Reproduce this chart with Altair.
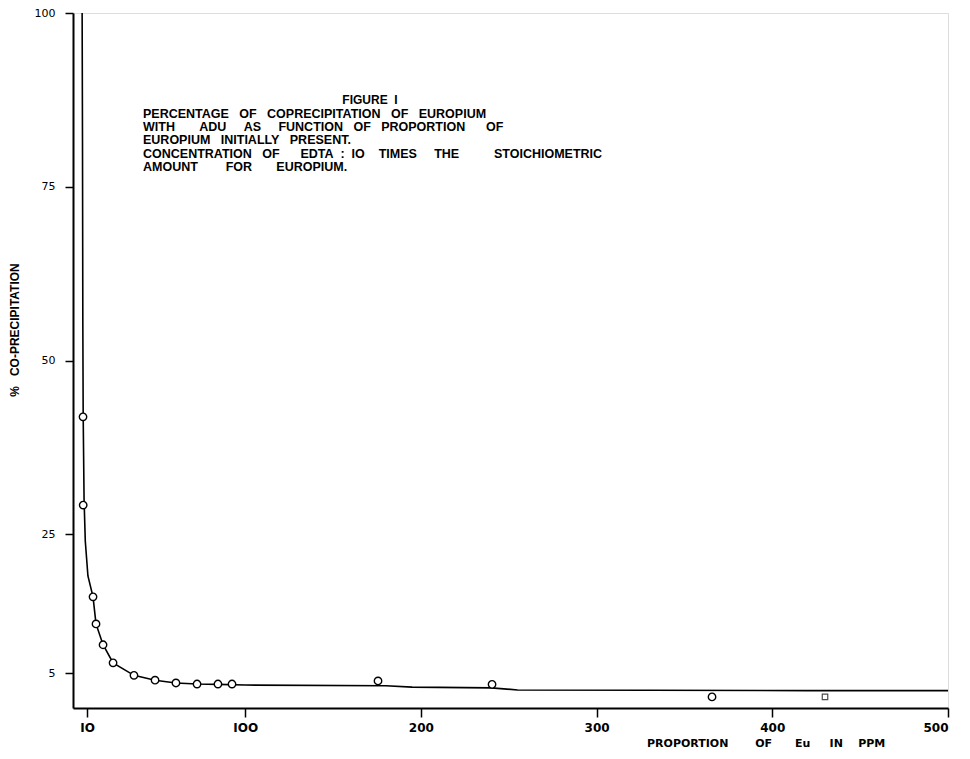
import altair as alt
import pandas as pd

# Smooth fitted curve (x in ppm Eu, y in % co-precipitation)
curve_x = [7.2, 7.4, 7.6, 7.8, 8.3, 9.0, 10.5, 13.4, 15.1, 19.1, 24.8, 36.7, 48.7, 60.6, 72.6, 84.5, 100, 180, 195, 240, 255, 330, 420, 500]
curve_y = [100, 82, 55, 42, 30, 24, 19, 16.0, 12.1, 9.1, 6.5, 4.7, 4.0, 3.6, 3.45, 3.4, 3.3, 3.2, 3.0, 2.9, 2.6, 2.55, 2.5, 2.5]

# Measured points (open circles)
pts_x = [7.7, 7.8, 13.4, 15.1, 19.1, 24.8, 36.7, 48.7, 60.6, 72.6, 84.5, 92.5, 175.6, 240.5, 365.7]
pts_y = [41.9, 29.2, 16.0, 12.1, 9.1, 6.5, 4.7, 4.0, 3.6, 3.45, 3.45, 3.45, 3.9, 3.4, 1.6]

# Square marker
sq_x = [430]
sq_y = [1.6]

x_ticks = [10, 100, 200, 300, 400, 500]
y_ticks = [5, 25, 50, 75, 100]

NB = "\u00a0"


def spaced(words, gaps):
    out = words[0]
    for w, g in zip(words[1:], gaps):
        out += NB * g + w
    return out


title_lines = [
    spaced(["PERCENTAGE", "OF", "COPRECIPITATION", "OF", "EUROPIUM"], [3, 3, 3, 3]),
    spaced(["WITH", "ADU", "AS", "FUNCTION", "OF", "PROPORTION", "OF"], [7, 5, 5, 3, 3, 6]),
    spaced(["EUROPIUM", "INITIALLY", "PRESENT."], [3, 3]),
    spaced(["CONCENTRATION", "OF", "EDTA", ":", "IO", "TIMES", "THE", "STOICHIOMETRIC"], [3, 6, 2, 2, 4, 5, 10]),
    spaced(["AMOUNT", "FOR", "EUROPIUM."], [8, 7]),
]
line_y = [101, 114, 127, 141, 154]

FONT = "Liberation Sans"
WIDE = "DejaVu Sans"

curve_df = pd.DataFrame({"x": curve_x, "y": curve_y, "i": list(range(len(curve_x)))})
pts_df = pd.DataFrame({"x": pts_x, "y": pts_y})
sq_df = pd.DataFrame({"x": sq_x, "y": sq_y})

xscale = alt.Scale(domain=[2, 500], nice=False, zero=False)
yscale = alt.Scale(domain=[0, 100], nice=False)

xaxis = alt.Axis(values=x_ticks, title=None, grid=False, tickSize=9, tickWidth=1.5,
                 domainColor="black", domainWidth=2, tickColor="black",
                 labelFont=WIDE, labelFontSize=12, labelFontWeight="bold", labelColor="black", labelPadding=5,
                 labelExpr="datum.value == 10 ? 'IO' : (datum.value == 100 ? 'IOO' : datum.label)")
yaxis = alt.Axis(values=y_ticks, title=None, grid=False, tickSize=8, tickWidth=1.5,
                 domainColor="black", domainWidth=2, tickColor="black",
                 labelFont=WIDE, labelFontSize=11, labelColor="black", labelPadding=10)

line = alt.Chart(curve_df).mark_line(color="black", strokeWidth=1.6).encode(
    x=alt.X("x:Q", scale=xscale, axis=xaxis),
    y=alt.Y("y:Q", scale=yscale, axis=yaxis),
    order="i:Q",
)

pts = alt.Chart(pts_df).mark_point(shape="circle", size=55, filled=True, fill="white",
                                   stroke="black", strokeWidth=1.4, opacity=1).encode(
    x=alt.X("x:Q", scale=xscale),
    y=alt.Y("y:Q", scale=yscale),
)

sq = alt.Chart(sq_df).mark_point(shape="square", size=30, filled=False, color="black",
                                 strokeWidth=1.2).encode(
    x=alt.X("x:Q", scale=xscale),
    y=alt.Y("y:Q", scale=yscale),
)


def label(text, x, y, size=12, align="left", angle=0, font=FONT):
    return alt.Chart(pd.DataFrame({"t": [text]})).mark_text(
        font=font, fontSize=size, fontWeight="bold", align=align, baseline="middle",
        color="black", angle=angle
    ).encode(text="t:N", x=alt.value(x), y=alt.value(y))


layers = [line, pts, sq, label("FIGURE" + NB * 2 + "I", 297, 87, size=12, align="center")]
for t, yy in zip(title_lines, line_y):
    layers.append(label(t, 70, yy, size=12.5))
layers.append(label("%" + NB * 3 + "CO-PRECIPITATION", -58, 317, size=12, align="center", angle=270))
layers.append(label(spaced(["PROPORTION", "OF", "Eu", "IN", "PPM"], [7, 6, 5, 4]), 574, 731, size=11, font=WIDE))

chart = alt.layer(*layers).properties(
    width=875, height=695,
    autosize=alt.AutoSizeParams(type="none"),
    padding={"left": 65, "top": 5, "right": 14, "bottom": 43},
).configure_view(stroke=None).configure(background="white")

chart.save("out.html", embed_options={"renderer": "svg", "actions": False})
